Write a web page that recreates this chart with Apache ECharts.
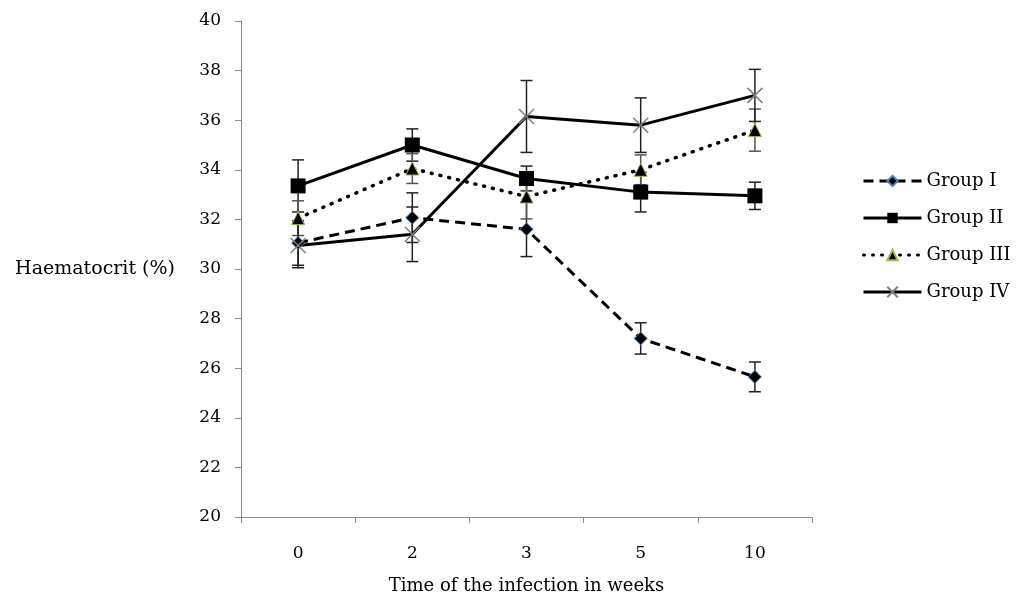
<!DOCTYPE html>
<html>
<head>
<meta charset="utf-8">
<script src="https://cdn.jsdelivr.net/npm/echarts@6/dist/echarts.min.js"></script>
<style>
  html, body { margin: 0; padding: 0; background: #fff; }
  #chart { width: 1024px; height: 597px; }
</style>
</head>
<body>
<div id="chart"></div>
<script>
// weeks after infection
const weeks = ['0', '2', '3', '5', '10'];
const yTicks = [20, 40, 2]; // min, max, step

// means and error
const group1 = [31.05, 32.07, 31.6, 27.2, 25.65];
const group1Err = [0.9, 1.0, 1.1, 0.63, 0.6];
const group2 = [33.35, 35.0, 33.65, 33.1, 32.95];
const group2Err = [1.05, 0.65, 0.5, 0.8, 0.55];
const group3 = [32.05, 34.05, 32.92, 34.0, 35.6];
const group3Err = [0.7, 0.6, 0.9, 0.6, 0.85];
const group4 = [30.95, 31.4, 36.15, 35.8, 37.0];
const group4Err = [0.9, 1.1, 1.45, 1.1, 1.05];

const font = 'DejaVu Serif, serif';

function errorSeries(name, vals, errs, color) {
    return {
        type: 'custom',
        name: name,
        z: 3,
        data: vals.map((v, i) => [i, v - errs[i], v + errs[i]]),
        renderItem: function (params, api) {
            const lo = api.coord([api.value(0), api.value(1)]);
            const hi = api.coord([api.value(0), api.value(2)]);
            const w = 6;
            const st = { stroke: color, lineWidth: 1.5 };
            return {
                type: 'group',
                children: [
                    { type: 'line', shape: { x1: lo[0], y1: lo[1], x2: hi[0], y2: hi[1] }, style: st },
                    { type: 'line', shape: { x1: lo[0] - w, y1: lo[1], x2: lo[0] + w, y2: lo[1] }, style: st },
                    { type: 'line', shape: { x1: hi[0] - w, y1: hi[1], x2: hi[0] + w, y2: hi[1] }, style: st }
                ]
            };
        }
    };
}

const chart = echarts.init(document.getElementById('chart'));
chart.setOption({
    animation: false,
    textStyle: { fontFamily: font },
    grid: { left: 241, right: 212, top: 21, bottom: 80, outerBoundsMode: 'none' },
    legend: {
        data: ['Group I', 'Group II', 'Group III', 'Group IV'],
        orient: 'vertical',
        left: 857,
        top: 167,
        itemWidth: 58,
        itemHeight: 13,
        itemGap: 19,
        lineStyle: { width: 3 },
        textStyle: { fontFamily: font, fontSize: 18, color: '#000' }
    },
    xAxis: {
        type: 'category',
        data: weeks,
        boundaryGap: true,
        name: 'Time of the infection in weeks',
        nameLocation: 'middle',
        nameGap: 60,
        nameTextStyle: { fontFamily: font, fontSize: 18, color: '#000' },
        axisLine: { lineStyle: { color: '#8c8c8c', width: 1 } },
        axisTick: { show: true, length: 6, lineStyle: { color: '#8c8c8c' } },
        axisLabel: { fontFamily: font, fontSize: 17, color: '#000', margin: 28 },
        splitLine: { show: false }
    },
    yAxis: {
        type: 'value',
        min: yTicks[0],
        max: yTicks[1],
        interval: yTicks[2],
        name: 'Haematocrit (%)',
        nameLocation: 'middle',
        nameRotate: 0,
        nameGap: 66,
        nameTextStyle: { fontFamily: font, fontSize: 19, color: '#000' },
        axisLine: { show: true, lineStyle: { color: '#8c8c8c', width: 1 } },
        axisTick: { show: true, length: 6, lineStyle: { color: '#8c8c8c' } },
        axisLabel: { fontFamily: font, fontSize: 17, color: '#000', margin: 20 },
        splitLine: { show: false }
    },
    series: [
        errorSeries('err1', group1, group1Err, '#222'),
        errorSeries('err2', group2, group2Err, '#222'),
        errorSeries('err3', group3, group3Err, '#555'),
        errorSeries('err4', group4, group4Err, '#222'),
        {
            name: 'Group I', type: 'line', data: group1, z: 4,
            symbol: 'diamond', symbolSize: 13,
            lineStyle: { color: '#000', width: 3, type: [10, 6] },
            itemStyle: { color: '#000', borderColor: '#4f81bd', borderWidth: 1 }
        },
        {
            name: 'Group II', type: 'line', data: group2, z: 4,
            symbol: 'rect', symbolSize: 15,
            lineStyle: { color: '#000', width: 3 },
            itemStyle: { color: '#000' }
        },
        {
            name: 'Group III', type: 'line', data: group3, z: 4,
            symbol: 'triangle', symbolSize: 13,
            lineStyle: { color: '#000', width: 3.5, type: [1, 8], cap: 'round' },
            itemStyle: { color: '#000', borderColor: '#9bbb59', borderWidth: 1 }
        },
        {
            name: 'Group IV', type: 'line', data: group4, z: 4,
            symbol: 'path://M0,0L10,10M10,0L0,10', symbolSize: 15,
            lineStyle: { color: '#000', width: 3 },
            itemStyle: { color: 'none', borderColor: '#7f7f7f', borderWidth: 1.5 }
        }
    ]
});
</script>
</body>
</html>
